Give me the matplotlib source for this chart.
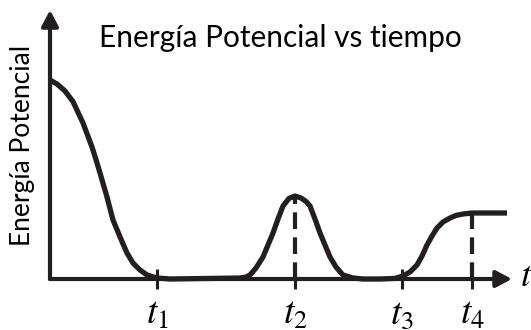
import numpy as np
import matplotlib.pyplot as plt

# potential energy curve, read point by point
tiempo = [0.0, 0.7, 1.5, 2.3, 3.3, 4.2, 4.6, 5.0, 5.7, 6.3, 7.2, 7.7, 8.3,
          9.0, 9.7, 10.7, 12.0,
          19.0, 19.6, 20.0, 20.6, 21.3, 21.8, 22.3, 22.8, 23.3, 23.9, 24.5,
          25.1, 25.6, 26.0, 26.5, 27.0, 27.5, 28.0, 28.6, 29.3, 30.3, 31.3,
          33.0, 34.5, 35.3, 36.0, 36.7, 37.2, 37.7, 38.2, 38.7, 39.3, 40.0,
          40.6, 41.3, 42.2, 45.7]
energia = [0.995, 0.975, 0.940, 0.887, 0.780, 0.660, 0.597, 0.530, 0.410,
           0.295, 0.187, 0.130, 0.080, 0.045, 0.020, 0.005, 0.000,
           0.005, 0.010, 0.020, 0.055, 0.110, 0.170, 0.230, 0.300, 0.365,
           0.403, 0.415, 0.405, 0.388, 0.365, 0.300, 0.230, 0.170, 0.110,
           0.060, 0.020, 0.005, 0.000,
           0.000, 0.003, 0.015, 0.035, 0.070, 0.115, 0.170, 0.215, 0.255,
           0.285, 0.305, 0.318, 0.325, 0.330, 0.330]

ticks = [10.7, 24.5, 35.2, 42.2]
tick_labels = ['$t_1$', '$t_2$', '$t_3$', '$t_4$']
marcados = [24.5, 42.2]

plt.rcParams['mathtext.fontset'] = 'stix'

fig = plt.figure(figsize=(5.31, 3.30), dpi=100)
ax = fig.add_axes([50 / 531, 51 / 330, 462 / 531, 269 / 330])
ax.set_xlim(0, 46.2)
ax.set_ylim(0, 1.345)

ax.plot(tiempo, energia, color='#231f20', lw=3.8, solid_capstyle='butt',
        solid_joinstyle='round', clip_on=False, zorder=3)

# dashed guides from the axis up to the curve
for tm in marcados:
    ax.vlines(tm, 0, np.interp(tm, tiempo, energia), colors='#231f20',
              lw=3.0, linestyles=(0, (4, 2)), zorder=2)

# axes drawn as arrows
for sp in ax.spines.values():
    sp.set_visible(False)
arrow = dict(arrowstyle='-|>,head_length=0.95,head_width=0.5', color='#231f20',
             lw=3.0, shrinkA=0, shrinkB=0, mutation_scale=10)
ax.annotate('', xy=(1, 0), xytext=(0, 0), xycoords='axes fraction',
            arrowprops=arrow)
ax.annotate('', xy=(0, 1), xytext=(0, 0), xycoords='axes fraction',
            arrowprops=arrow)

ax.set_yticks([])
ax.set_xticks(ticks)
ax.set_xticklabels(tick_labels, fontsize=27)
ax.tick_params(axis='x', direction='inout', length=14.5, width=2.2,
               color='#231f20', pad=5)

fig.text(526 / 531, 1 - 276 / 330, '$t$', fontsize=26, ha='center',
         va='center')
fig.text(280 / 531, 1 - 38 / 330, 'Energía Potencial vs tiempo',
         fontsize=21.5, family='Lato', ha='center', va='center')
fig.text(23 / 531, 1 - 145 / 330, 'Energía Potencial', fontsize=19,
         family='Lato', rotation=90, ha='center', va='center')

fig.savefig('out.png', dpi=100)
